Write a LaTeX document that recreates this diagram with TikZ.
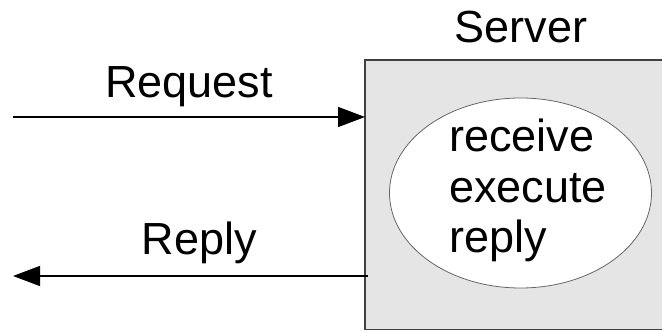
\documentclass[tikz,border=0pt]{standalone}
\usepackage{fontspec}
\setmainfont{Liberation Sans}
\usetikzlibrary{arrows.meta,shapes.geometric}

\tikzset{
  lbl/.style={font=\fontsize{45pt}{50pt}\selectfont, inner sep=0pt, anchor=base},
  steptext/.style={font=\fontsize{45pt}{50pt}\selectfont, inner sep=0pt, anchor=base west},
  msg/.style={line width=1.4pt, -{Triangle[length=27pt,width=20pt]}},
  serverbox/.style={draw=black!75, line width=1.3pt, fill=black!10, rectangle,
    inner sep=0pt, outer sep=0pt, minimum width=299pt, minimum height=269.5pt},
  procshape/.style={draw=black!60, line width=0.8pt, fill=white, ellipse,
    inner sep=0pt, minimum width=262pt, minimum height=190pt}
}

\begin{document}
\begin{tikzpicture}[x=1pt,y=1pt]
  \useasboundingbox (0,0) rectangle (662,331);

  % server box and its process ellipse
  \node[serverbox] (srv) at (514.5,136.25) {};
  \node[procshape] (proc) at (520.5,138) {};
  \node[steptext] (rcv) at (449,179) {receive};
  \node[steptext] (exe) at (449,128) {execute};
  \node[steptext] (rpl) at (449,78) {reply};

  % labels
  \node[lbl] (srvlbl) at (521,288) {Server};
  \node[lbl] (reqlbl) at (189,233) {Request};
  \node[lbl] (replbl) at (199.5,76) {Reply};

  % messages
  \coordinate (reqstart) at (13,214);
  \coordinate (repend) at (13,55);
  \draw[msg] (reqstart) -- (reqstart -| srv.west);
  \draw[msg] (repend -| srv.west) ++(3,0) -- (repend);
\end{tikzpicture}
\end{document}
